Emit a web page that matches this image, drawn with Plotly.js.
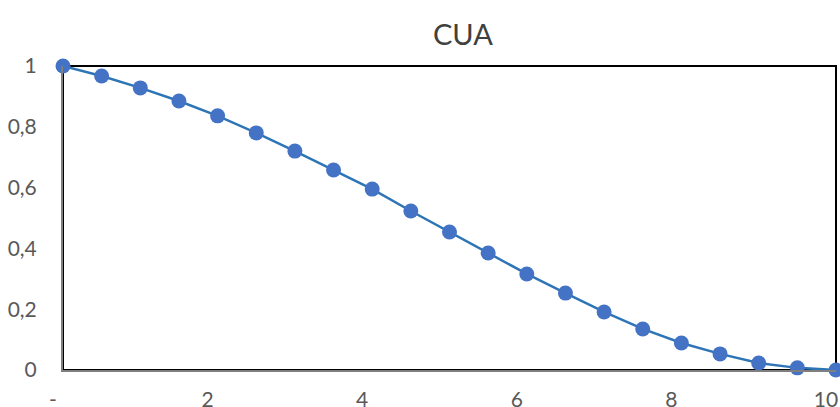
<!DOCTYPE html>
<html>
<head>
<meta charset="utf-8">
<script src="https://cdn.plot.ly/plotly-3.0.1.min.js"></script>
<style>html,body{margin:0;padding:0;background:#fff;}#chart{width:840px;height:407px;}</style>
</head>
<body>
<div id="chart"></div>
<script>
const xValues = [0, 0.5, 1, 1.5, 2, 2.5, 3, 3.5, 4, 4.5, 5, 5.5, 6, 6.5, 7, 7.5, 8, 8.5, 9, 9.5, 10];
const cuaValues = [1, 0.967, 0.928, 0.885, 0.836, 0.780, 0.720, 0.658, 0.595, 0.523, 0.454, 0.385, 0.316, 0.253, 0.191, 0.135, 0.089, 0.053, 0.023, 0.007, 0];
const xTickVals = [0, 2, 4, 6, 8, 10];
const xTickText = ["-", "2", "4", "6", "8", "10"];
const yTickVals = [0, 0.2, 0.4, 0.6, 0.8, 1];
const yTickText = ["0", "0,2", "0,4", "0,6", "0,8", "1"];

const font = "Lato, 'Open Sans', sans-serif";

Plotly.newPlot('chart', [{
  x: xValues,
  y: cuaValues,
  type: 'scatter',
  mode: 'lines+markers',
  cliponaxis: false,
  line: {color: '#2E75B6', width: 2.5},
  marker: {color: '#4472C4', size: 15}
}], {
  width: 840, height: 407,
  margin: {l: 63, r: 4, t: 66, b: 37},
  paper_bgcolor: '#ffffff',
  plot_bgcolor: '#ffffff',
  showlegend: false,
  title: {text: 'CUA', font: {family: font, size: 29, color: '#404040'}, x: 0.551, xanchor: 'center', y: 0.915, yanchor: 'middle'},
  xaxis: {
    range: [0, 10], tickvals: xTickVals, ticktext: xTickText,
    showgrid: false, zeroline: false, showline: true, linecolor: '#7f7f7f', linewidth: 2,
    ticks: '', ticklabelshift: -10, ticklabelstandoff: 10,
    tickfont: {family: font, size: 21, color: '#595959'}
  },
  yaxis: {
    range: [0, 1], tickvals: yTickVals, ticktext: yTickText,
    showgrid: false, zeroline: false, showline: true, linecolor: '#7f7f7f', linewidth: 2,
    ticks: '', ticklabelstandoff: 20,
    tickfont: {family: font, size: 21, color: '#595959'}
  },
  shapes: [{
    type: 'rect', xref: 'paper', yref: 'paper', x0: 0, x1: 1, y0: 0, y1: 1,
    line: {color: '#000000', width: 2}, layer: 'below'
  }]
}, {displayModeBar: false, staticPlot: true});
</script>
</body>
</html>
